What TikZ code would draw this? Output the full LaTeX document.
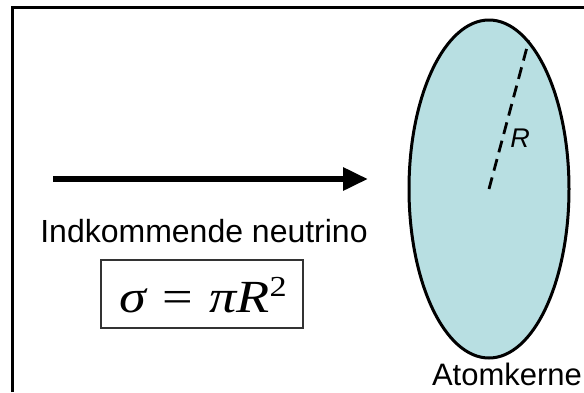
\documentclass[tikz,border=0pt]{standalone}
\usepackage{fontspec}
\setmainfont{Liberation Sans}
\newfontfamily\formfont{Liberation Serif}
\usepackage{xcolor}
\usetikzlibrary{arrows.meta,positioning,shapes.geometric}

\definecolor{kernefill}{HTML}{B8DFE2}
% the formula in the source is a little wider than it is tall
\newcommand{\widetext}[1]{\scalebox{1.18}[1]{#1}}

\begin{document}
\begin{tikzpicture}[
  x=1pt, y=-1pt,
  frame/.style={draw=black, line width=3pt},
  nucleus/.style={ellipse, draw, line width=3pt, fill=kernefill,
                  minimum width=160pt, minimum height=338pt, inner sep=0pt},
  beam/.style={-{Triangle[length=25pt, width=22pt]}, line width=6pt},
  radius/.style={line width=2.8pt, dash pattern=on 12pt off 7pt},
  formbox/.style={rectangle, draw=black!80, line width=1.2pt,
                  minimum width=202pt, minimum height=68pt, fill=white},
  lbl/.style={font=\fontsize{32}{38}\selectfont, inner sep=0pt}
]
\useasboundingbox (0,0) rectangle (584,392);

% ---- outer frame ----
\draw[frame] (12,392) |- (584,7);

% ---- nucleus (right) ----
\node[nucleus] (kerne) at (489,189) {};
\draw[radius] (kerne.center) -- (kerne.75);
\node[font=\fontsize{27}{32}\selectfont\itshape, inner sep=0pt] (rlbl) at (520,138) {R};
\node[lbl, font=\fontsize{31}{36}\selectfont, anchor=base] (kname) at (507,385) {Atomkerne};

% ---- incoming neutrino (left) ----
\coordinate (src) at (53,179);
\coordinate (tip) at (368,179);
\draw[beam] (src) -- (tip);
\node[lbl, anchor=base] (nulbl) at (204,242) {Indkommende neutrino};

% ---- cross section ----
\node[formbox] (sigma) at (202,294) {};
\node[anchor=base, inner sep=0pt] (sform) at (203,312)
  {\widetext{\formfont\fontsize{46}{52}\selectfont\itshape σ\hspace{0.3em}\upshape=\hspace{0.3em}\itshape πR\raisebox{16pt}{\upshape\fontsize{29}{34}\selectfont 2}}};

\end{tikzpicture}
\end{document}
